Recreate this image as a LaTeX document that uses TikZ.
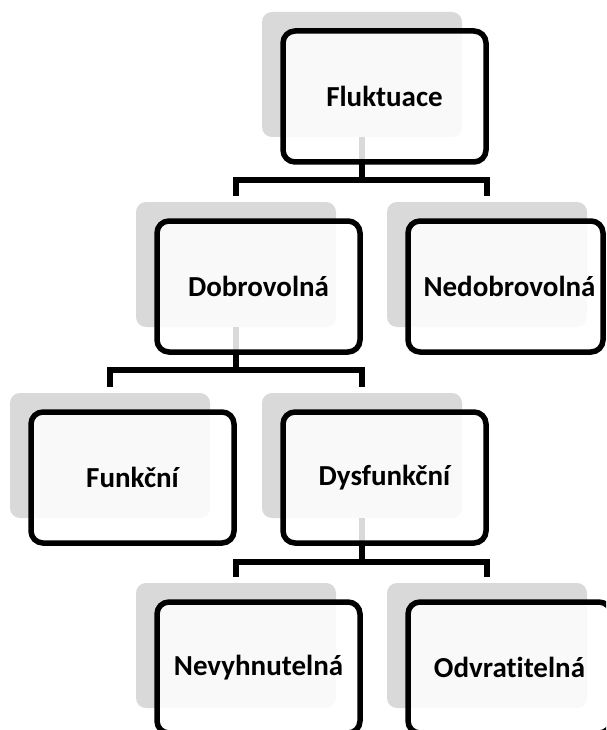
\documentclass[tikz,border=0pt]{standalone}
\usepackage{fontspec}
\setmainfont{Carlito}[Ligatures={NoCommon}]
\definecolor{shgray}{HTML}{D9D9D9}
\begin{document}
\begin{tikzpicture}[x=1pt,y=-1pt,
  shadowbox/.style={rectangle, rounded corners=10pt, fill=shgray, minimum width=200pt, minimum height=125pt, inner sep=0pt, outer sep=0pt},
  mainbox/.style={rectangle, rounded corners=12pt, draw=black, line width=5.5pt, fill=white, fill opacity=0.85, minimum width=203pt, minimum height=131pt, inner sep=0pt, outer sep=0pt},
  conn/.style={line width=5.5pt, line join=miter},
  lbl/.style={font=\fontsize{29}{34}\selectfont\bfseries, inner sep=0pt}
]
\useasboundingbox (0,0) rectangle (606,730);
\clip (0,0) rectangle (606,730);
\fill[white] (0,0) rectangle (606,730);

% shadows
\node[shadowbox] (s1) at (362,74.5) {};
\node[shadowbox] (s2) at (236,264.5) {};
\node[shadowbox] (s3) at (487,264.5) {};
\node[shadowbox] (s4) at (110,455.5) {};
\node[shadowbox] (s5) at (362,455.5) {};
\node[shadowbox] (s6) at (236,645.5) {};
\node[shadowbox] (s7) at (487,645.5) {};

% connectors
\draw[conn] (s1.south) -- ([yshift=22pt]s2.north -| s1.south);
\draw[conn] ([yshift=6pt]s2.north) -- ([yshift=22pt]s2.north) -- ([yshift=22pt]s3.north) -- ([yshift=6pt]s3.north);
\draw[conn] (s2.south) -- ([yshift=23pt]s4.north -| s2.south);
\draw[conn] ([yshift=6pt]s4.north) -- ([yshift=23pt]s4.north) -- ([yshift=23pt]s5.north) -- ([yshift=6pt]s5.north);
\draw[conn] (s5.south) -- ([yshift=21pt]s6.north -| s5.south);
\draw[conn] ([yshift=6pt]s6.north) -- ([yshift=21pt]s6.north) -- ([yshift=21pt]s7.north) -- ([yshift=6pt]s7.north);

% boxes
\node[mainbox] (b1) at (384.5,96.5) {};
\node[mainbox] (b2) at (258.5,286.5) {};
\node[mainbox, minimum width=195pt] (b3) at (505.5,286.5) {};
\node[mainbox] (b4) at (132.5,477.5) {};
\node[mainbox] (b5) at (384.5,477.5) {};
\node[mainbox] (b6) at (258.5,667.5) {};
\node[mainbox] (b7) at (509.5,667.5) {};

% labels
\node[lbl] (t1) at (384.5,96.5) {Fluktuace};
\node[lbl] (t2) at (b2.center) {Dobrovolná};
\node[lbl] (t3) at (509.5,286.5) {Nedobrovolná};
\node[lbl] (t4) at (b4.center) {Funkční};
\node[lbl] (t5) at (b5.center) {Dysfunkční};
\node[lbl] (t6) at (b6.center) {Nevyhnutelná};
\node[lbl] (t7) at (b7.center) {Odvrat\kern0pt itelná};
\end{tikzpicture}
\end{document}
